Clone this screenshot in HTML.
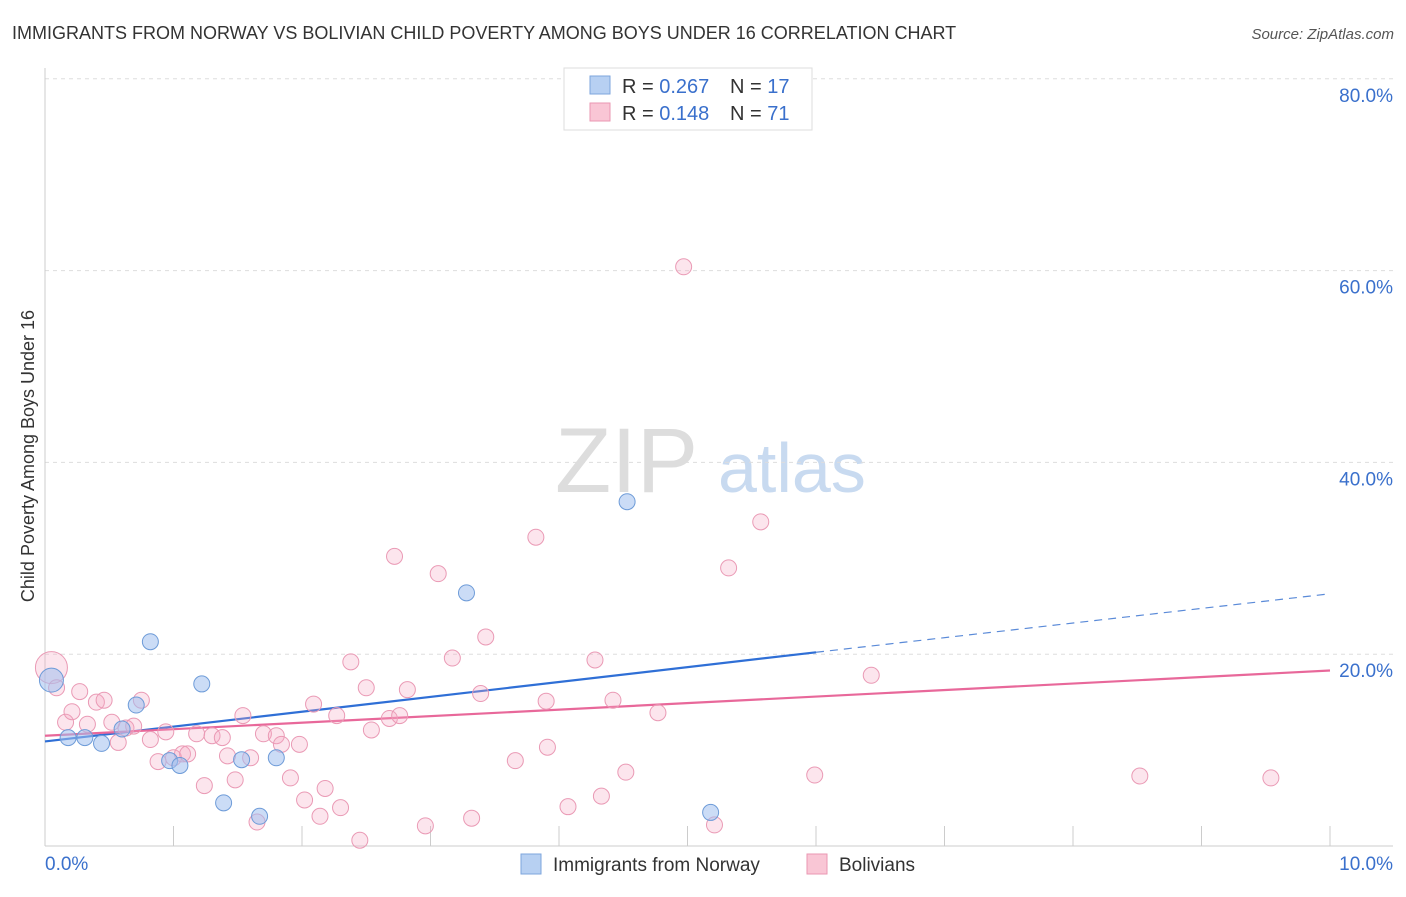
<!DOCTYPE html>
<html><head><meta charset="utf-8"><style>
body{margin:0;background:#fff;font-family:"Liberation Sans",sans-serif;}
svg text{font-family:"Liberation Sans",sans-serif;}
</style></head><body>
<svg id="chart" width="1406" height="892" xmlns="http://www.w3.org/2000/svg">
<text x="12" y="39" font-size="18" fill="#333">IMMIGRANTS FROM NORWAY VS BOLIVIAN CHILD POVERTY AMONG BOYS UNDER 16 CORRELATION CHART</text>
<text x="1394" y="39" font-size="15" fill="#555" font-style="italic" text-anchor="end">Source: ZipAtlas.com</text>
<text x="555" y="492" font-size="92" fill="#ddd" font-family="Liberation Serif">ZIP</text>
<text x="718" y="492" font-size="70" fill="#c8daf0">atlas</text>
<text transform="translate(34,456) rotate(-90)" font-size="18" fill="#333" text-anchor="middle">Child Poverty Among Boys Under 16</text>
<g id="grid"></g><g id="axes"></g><g id="trends"></g><g id="pts"></g>
<g>
<rect x="564" y="68" width="248" height="62" fill="#fff" stroke="#ddd"/>
<rect x="590" y="76" width="20" height="18" fill="#b7d0f2" stroke="#7ea6dc"/>
<rect x="590" y="103" width="20" height="18" fill="#f9c6d5" stroke="#ea97b2"/>
<text x="622" y="93" font-size="20" fill="#333">R = <tspan fill="#3a70cc">0.267</tspan></text>
<text x="730" y="93" font-size="20" fill="#333">N = <tspan fill="#3a70cc">17</tspan></text>
<text x="622" y="120" font-size="20" fill="#333">R = <tspan fill="#3a70cc"> 0.148</tspan></text>
<text x="730" y="120" font-size="20" fill="#333">N = <tspan fill="#3a70cc">71</tspan></text>
</g>
<g>
<rect x="521" y="854" width="20" height="20" fill="#b7d0f2" stroke="#7ea6dc"/>
<text x="553" y="871" font-size="19" fill="#333">Immigrants from Norway</text>
<rect x="807" y="854" width="20" height="20" fill="#f9c6d5" stroke="#ea97b2"/>
<text x="839" y="871" font-size="19" fill="#333">Bolivians</text>
</g>
</svg>
<script>
const xTicks=[0,1,2,3,4,5,6,7,8,9,10];
const yTicks=[20,40,60,80];
const yTickLabels=["20.0%","40.0%","60.0%","80.0%"];
const norwayX=[0.05,0.18,0.31,0.44,0.60,0.71,0.82,0.97,1.05,1.22,1.39,1.53,1.67,1.80,3.28,4.53,5.18];
const norwayY=[17.3,11.3,11.3,10.7,12.2,14.7,21.3,8.9,8.4,16.9,4.5,9.0,3.1,9.2,26.4,35.9,3.5];
const bolX=[0.05,0.09,0.16,0.21,0.27,0.33,0.40,0.46,0.52,0.57,0.63,0.69,0.75,0.82,0.88,0.94,1.00,1.07,1.11,1.18,1.24,1.30,1.38,1.42,1.48,1.54,1.60,1.65,1.70,1.80,1.84,1.91,1.98,2.02,2.09,2.14,2.18,2.27,2.30,2.38,2.45,2.50,2.54,2.68,2.72,2.76,2.82,2.96,3.06,3.17,3.32,3.39,3.43,3.66,3.82,3.90,3.91,4.07,4.28,4.33,4.42,4.52,4.77,4.97,5.21,5.32,5.57,5.99,6.43,8.52,9.54];
const bolY=[18.6,16.5,12.9,14.0,16.1,12.7,15.0,15.2,12.9,10.8,12.3,12.5,15.2,11.1,8.8,11.9,9.2,9.6,9.6,11.7,6.3,11.5,11.3,9.4,6.9,13.6,9.2,2.5,11.7,11.5,10.6,7.1,10.6,4.8,14.8,3.1,6.0,13.6,4.0,19.2,0.6,16.5,12.1,13.3,30.2,13.6,16.3,2.1,28.4,19.6,2.9,15.9,21.8,8.9,32.2,15.1,10.3,4.1,19.4,5.2,15.2,7.7,13.9,60.4,2.2,29.0,33.8,7.4,17.8,7.3,7.1];
const norwayTrend=[[0,10.9],[6.0,20.2]];
const norwayTrendExt=[[6.0,20.2],[10,26.3]];
const bolTrend=[[0,11.5],[10,18.3]];
const sx=v=>45+v*128.5, sy=v=>846-v*9.59;
const NS="http://www.w3.org/2000/svg";
function mk(p,t,a){const e=document.createElementNS(NS,t);for(const k in a)e.setAttribute(k,a[k]);document.getElementById(p).appendChild(e);return e;}
yTicks.forEach((t,i)=>{
 const l=mk('grid','line',{x1:45,x2:1393,y1:sy(t),y2:sy(t),stroke:'#ddd','stroke-dasharray':'4,4'});
 
 
 const tx=mk('grid','text',{x:1393,y:sy(t)+23,'font-size':19,fill:'#3a70cc','text-anchor':'end'});
 tx.textContent=yTickLabels[i];
 
 
});
let a=mk('axes','line',{x1:45,x2:45,y1:68,y2:846,stroke:'#ccc'});


a=mk('axes','line',{x1:45,x2:1393,y1:846,y2:846,stroke:'#ccc'});


xTicks.forEach(t=>{const l=mk('axes','line',{x1:sx(t),x2:sx(t),y1:826,y2:846,stroke:'#ccc'});
 
 });
let t0=mk('axes','text',{x:45,y:870,'font-size':19,fill:'#3a70cc'});t0.textContent='0.0%';


let t1=mk('axes','text',{x:1393,y:870,'font-size':19,fill:'#3a70cc','text-anchor':'end'});t1.textContent='10.0%';


function tl(d,c,dash,name){const l=mk('trends','line',{x1:sx(d[0][0]),y1:sy(d[0][1]),x2:sx(d[1][0]),y2:sy(d[1][1]),stroke:c,'stroke-width':dash?1.2:2.2});if(dash)l.setAttribute('stroke-dasharray','8,6');
 
 }
bolX.forEach((x,i)=>{const c=mk('pts','circle',{cx:sx(x),cy:sy(bolY[i]),r:i===0?16:8,fill:'rgba(246,170,197,0.3)',stroke:'#ea9ab5','stroke-width':1});
 
 });
norwayX.forEach((x,i)=>{const c=mk('pts','circle',{cx:sx(x),cy:sy(norwayY[i]),r:i===0?12:8,fill:'rgba(160,192,238,0.55)',stroke:'#6d9bd8','stroke-width':1});
 
 });
tl(norwayTrend,'#2f6fd6',false,'norway-trendline');
tl(norwayTrendExt,'#5a8ad8',true,'norway-trendline-extension');
tl(bolTrend,'#e8689a',false,'bolivians-trendline');
</script>
</body></html>
